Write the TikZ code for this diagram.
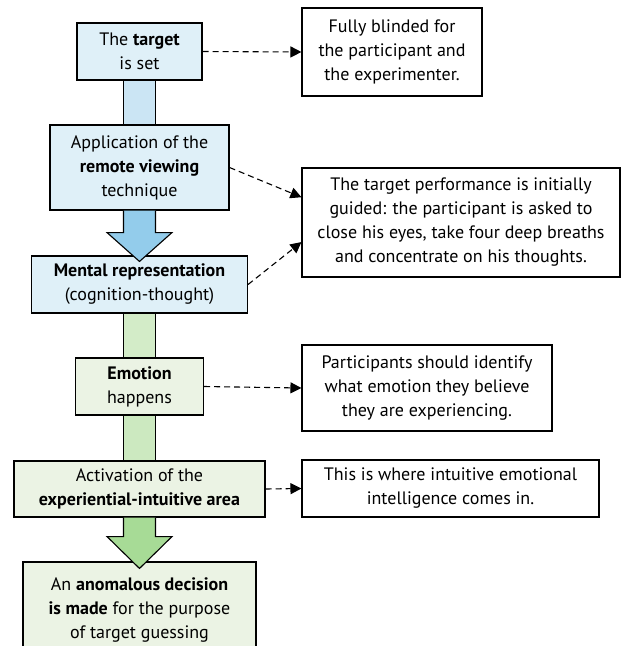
\documentclass[tikz,border=0pt]{standalone}
\usepackage{fontspec}
\setmainfont{PT Sans}
\usetikzlibrary{arrows.meta,calc}
\definecolor{blueBox}{HTML}{DFF0F8}
\definecolor{blueBar}{HTML}{CBE5F4}
\definecolor{blueHead}{HTML}{93CCEB}
\definecolor{greenBox}{HTML}{EBF3E4}
\definecolor{greenBar}{HTML}{D3ECC8}
\definecolor{greenHead}{HTML}{A7DB96}
\tikzset{
  stage/.style={draw, line width=1.1pt, align=center, inner sep=0pt,
    font=\fontsize{18}{24}\selectfont},
  note/.style={stage, fill=white},
  hint/.style={dashed, dash pattern=on 6pt off 4pt, line width=1.1pt,
    -{Triangle[length=11pt,width=11pt]}},
  pipe/.style={line width=1.1pt}
}
\begin{document}
\begin{tikzpicture}[x=1pt,y=-1pt]
\useasboundingbox (0,0) rectangle (622,646);
\node[stage, fill=blueBox, minimum width=125pt, minimum height=57pt] (target) at (139.5,51.5) {The \textbf{target}\\is set};
\node[stage, fill=blueBox, minimum width=179pt, minimum height=85pt] (apply) at (139.5,167.5) {Application of the\\\textbf{remote viewing}\\technique};
\node[stage, fill=blueBox, minimum width=216pt, minimum height=57pt] (mental) at (139.5,284.5) {\textbf{Mental representation}\\(cognition-thought)};
\node[stage, fill=greenBox, minimum width=128pt, minimum height=57pt] (emotion) at (139.5,386.5) {\textbf{Emotion}\\happens};
\node[stage, fill=greenBox, minimum width=251pt, minimum height=56pt] (area) at (139.5,489) {Activation of the\\\textbf{experiential-intuitive area}};
\node[stage, fill=greenBox, minimum width=233pt, minimum height=96pt] (decision) at (139.5,610) {An \textbf{anomalous decision}\\\textbf{is made} for the purpose\\of target guessing};
\node[note, minimum width=180pt, minimum height=88pt] (blind) at (392,52) {Fully blinded for\\the participant and\\the experimenter.};
\node[note, minimum width=318pt, minimum height=109pt] (guided) at (461,222.5) {The target performance is initially\\guided: the participant is asked to\\close his eyes, take four deep breaths\\and concentrate on his thoughts.};
\node[note, minimum width=250pt, minimum height=86pt] (identify) at (427,388) {Participants should identify\\what emotion they believe\\they are experiencing.};
\node[note, minimum width=297pt, minimum height=57pt] (intel) at (450.5,488.5) {This is where intuitive emotional\\intelligence comes in.};
\filldraw[pipe, fill=blueBar] ($(target.south)+(-16,0)$) rectangle ($(apply.north)+(16,0)$);
\filldraw[pipe, fill=greenBar] ($(mental.south)+(-16,0)$) rectangle ($(emotion.north)+(16,0)$);
\filldraw[pipe, fill=greenBar!85!greenHead] ($(emotion.south)+(-16,0)$) rectangle ($(area.north)+(16,0)$);
\filldraw[pipe, fill=blueHead] ($(apply.south)+(-16,0)$) -- ++(0,22) -- ++(-16.5,0) -- ($(mental.north)+(0,6)$) -- ($(apply.south)+(32.5,22)$) -- ++(-16.5,0) -- ($(apply.south)+(16,0)$);
\filldraw[pipe, fill=greenHead] ($(area.south)+(-16,0)$) -- ++(0,19) -- ++(-16.5,0) -- ($(decision.north)+(0,7)$) -- ($(area.south)+(32.5,19)$) -- ++(-16.5,0) -- ($(area.south)+(16,0)$);
\draw[hint] (target.east) -- (blind.west);
\draw[hint] (apply.east) -- (guided.171);
\draw[hint] (mental.east) -- (guided.187);
\draw[hint] (emotion.east) -- (identify.west);
\draw[hint] (area.east) -- (intel.west);
\end{tikzpicture}
\end{document}
